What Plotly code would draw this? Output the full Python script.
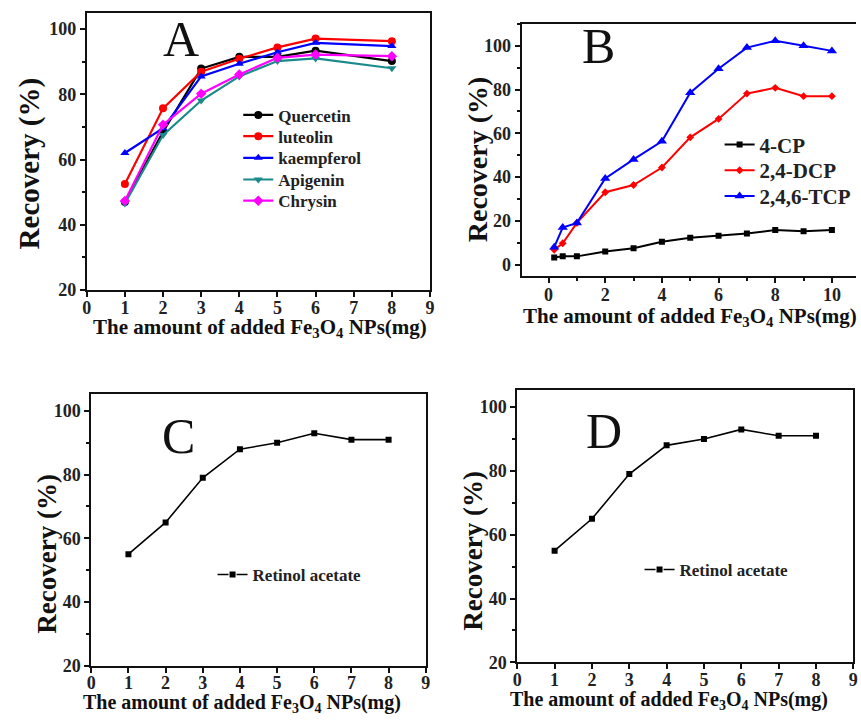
import plotly.graph_objects as go

# ---------------- data ----------------
# Panel A: flavonoids
dose_a = [1, 2, 3, 4, 5, 6, 8]
quercetin = [47.0, 68.5, 87.9, 91.5, 91.5, 93.4, 90.2]
luteolin = [52.5, 75.7, 86.9, 90.9, 94.4, 97.1, 96.3]
kaempferol = [62.0, 69.6, 85.5, 89.4, 92.9, 95.8, 94.8]
apigenin = [46.5, 67.5, 78.1, 85.5, 90.2, 91.0, 88.0]
chrysin = [47.3, 70.7, 80.2, 86.1, 91.2, 92.2, 91.7]

# Panel B: chlorophenols
dose_b = [0.2, 0.5, 1, 2, 3, 4, 5, 6, 7, 8, 9, 10]
cp4 = [3.3, 3.8, 3.8, 6.0, 7.5, 10.5, 12.3, 13.2, 14.3, 15.8, 15.3, 15.8]
dcp24 = [6.8, 9.8, 19.1, 33.1, 36.4, 44.4, 58.2, 66.6, 78.2, 80.8, 77.0, 77.0]
tcp246 = [8.0, 17.0, 19.1, 39.4, 48.1, 56.4, 78.6, 89.5, 99.2, 102.3, 100.0, 97.7]

# Panels C and D: retinol acetate
dose_cd = [1, 2, 3, 4, 5, 6, 7, 8]
retinol_c = [55, 65, 79, 88, 90, 93, 91, 91]
retinol_d = [55, 65, 79, 88, 90, 93, 91, 91]

W, H = 861, 721
SERIF = "Liberation Serif"


def xdom(left, right):
    return [left / W, min(right / W, 1.0)]


def ydom(top, bottom):
    return [1 - bottom / H, 1 - top / H]


fig = go.Figure()
legend_boxes = {}


def legend_entry(key, text_left, center_y, size):
    # one single-entry legend per series so each row sits where it should
    legend_boxes[key] = dict(
        x=(text_left - 40) / W, y=1 - center_y / H, xanchor="left", yanchor="middle",
        bgcolor="rgba(0,0,0,0)", borderwidth=0,
        font=dict(family=SERIF, size=size, color="#222222", weight="bold"),
    )


def add_line(x, y, name, color, symbol, size, width, axes, legend, show=True):
    fig.add_trace(go.Scatter(
        x=x, y=y, name=name, mode="lines+markers",
        line=dict(color=color, width=width),
        marker=dict(color=color, symbol=symbol, size=size),
        xaxis=axes[0], yaxis=axes[1], legend=legend, showlegend=show,
    ))


def add_key(name, axes, legend):
    # legend key drawn as broken line with a square in the gap
    fig.add_trace(go.Scatter(
        x=[None], y=[None], name=name, mode="lines+markers",
        line=dict(color="#000000", width=1.6, dash="11px,8px"),
        marker=dict(color="#000000", symbol="square", size=6),
        xaxis=axes[0], yaxis=axes[1], legend=legend, hoverinfo="skip",
    ))


# Panel A
a_rows = [117, 138.5, 160.5, 182.5, 204]
for i, (y, name, color, sym) in enumerate([
    (quercetin, "Quercetin", "#000000", "circle"),
    (luteolin, "luteolin", "#ff0000", "circle"),
    (kaempferol, "kaempferol", "#0000ff", "triangle-up"),
    (apigenin, "Apigenin", "#1b8a8a", "triangle-down"),
    (chrysin, "Chrysin", "#ff00ff", "diamond"),
]):
    key = "legend" if i == 0 else f"legend{i + 1}"
    add_line(dose_a, y, name, color, sym, 8, 2.2, ("x", "y"), key)
    legend_entry(key, 276, a_rows[i], 17)

# Panel B
b_rows = [147, 173, 199]
for i, (y, name, color, sym, ms) in enumerate([
    (cp4, "4-CP", "#000000", "square", 6),
    (dcp24, "2,4-DCP", "#ff0000", "diamond", 6),
    (tcp246, "2,4,6-TCP", "#0000ff", "triangle-up", 9),
]):
    key = f"legend{i + 6}"
    add_line(dose_b, y, name, color, sym, ms, 2, ("x2", "y2"), key)
    legend_entry(key, 763, b_rows[i], 21)

# Panels C and D
add_line(dose_cd, retinol_c, "Retinol acetate", "#000000", "square", 6, 1.6,
         ("x3", "y3"), "legend9", show=False)
add_key("Retinol acetate", ("x3", "y3"), "legend9")
legend_entry("legend9", 250, 583, 17)
add_line(dose_cd, retinol_d, "Retinol acetate", "#000000", "square", 6, 1.6,
         ("x4", "y4"), "legend10", show=False)
add_key("Retinol acetate", ("x4", "y4"), "legend10")
legend_entry("legend10", 682, 578, 17)

tickfont = dict(family=SERIF, size=18, color="#222222", weight="bold")


def axis(domain, rng, dtick, minor_dtick, anchor, mirror=True, standoff=0):
    return dict(
        domain=domain, range=rng, dtick=dtick, tick0=0, anchor=anchor,
        showgrid=False, zeroline=False, showline=True, linecolor="#111111",
        linewidth=2, mirror=mirror, ticks="outside", ticklen=5, tickwidth=2,
        tickcolor="#111111", tickfont=tickfont, ticklabelstandoff=standoff,
        minor=dict(dtick=minor_dtick, ticks="outside", ticklen=3, tickwidth=1.5,
                   tickcolor="#111111") if minor_dtick else None,
    )


layout = dict(
    width=W, height=H, margin=dict(l=0, r=0, t=0, b=0),
    paper_bgcolor="white", plot_bgcolor="white", showlegend=True,
    xaxis=axis(xdom(82.7, 430), [0, 9], 1, None, "y", standoff=-5),
    yaxis=axis(ydom(13, 294), [20, 105], 20, 10, "x"),
    xaxis2=axis(xdom(522.7, 861), [-0.95, 10.85], 2, 1, "y2", standoff=-3),
    yaxis2=axis(ydom(24.3, 279.5), [-5, 110], 20, 10, "x2", mirror=False),
    xaxis3=axis(xdom(87.3, 425.7), [0, 9], 1, None, "y3", standoff=-5),
    yaxis3=axis(ydom(400, 675), [20, 105.2], 20, 10, "x3"),
    xaxis4=axis(xdom(518.3, 858.3), [0, 9], 1, None, "y4", standoff=-5),
    yaxis4=axis(ydom(395, 671.7), [20, 105.5], 20, 10, "x4"),
)
layout.update(legend_boxes)
fig.update_layout(**layout)


def note(text, px, py, size, angle=0, weight="normal", yanchor="middle"):
    fig.add_annotation(
        text=text, x=px / W, y=1 - py / H, xref="paper", yref="paper",
        xanchor="center", yanchor=yanchor, showarrow=False, textangle=angle,
        font=dict(family=SERIF, size=size, color="#111111", weight=weight),
    )


# Panel letters
note("A", 178, 40, 50)
note("B", 600, 47, 50)
note("C", 176, 442, 50)
note("D", 606, 437, 50)

# Axis titles
xtitle = "The amount of added Fe<sub>3</sub>O<sub>4</sub> NPs(mg)"
note("Recovery (%)", 25, 166, 29, angle=-90, weight="bold")
note("Recovery (%)", 478, 161, 28, angle=-90, weight="bold")
note("Recovery (%)", 43, 562, 27, angle=-90, weight="bold")
note("Recovery (%)", 474, 558, 27, angle=-90, weight="bold")
note(xtitle, 258, 317, 21, weight="bold", yanchor="top")
note(xtitle, 693, 306, 21, weight="bold", yanchor="top")
note(xtitle, 240, 699, 20, weight="bold", yanchor="top")
note(xtitle, 672, 696, 20, weight="bold", yanchor="top")

fig.write_html("out.html")
